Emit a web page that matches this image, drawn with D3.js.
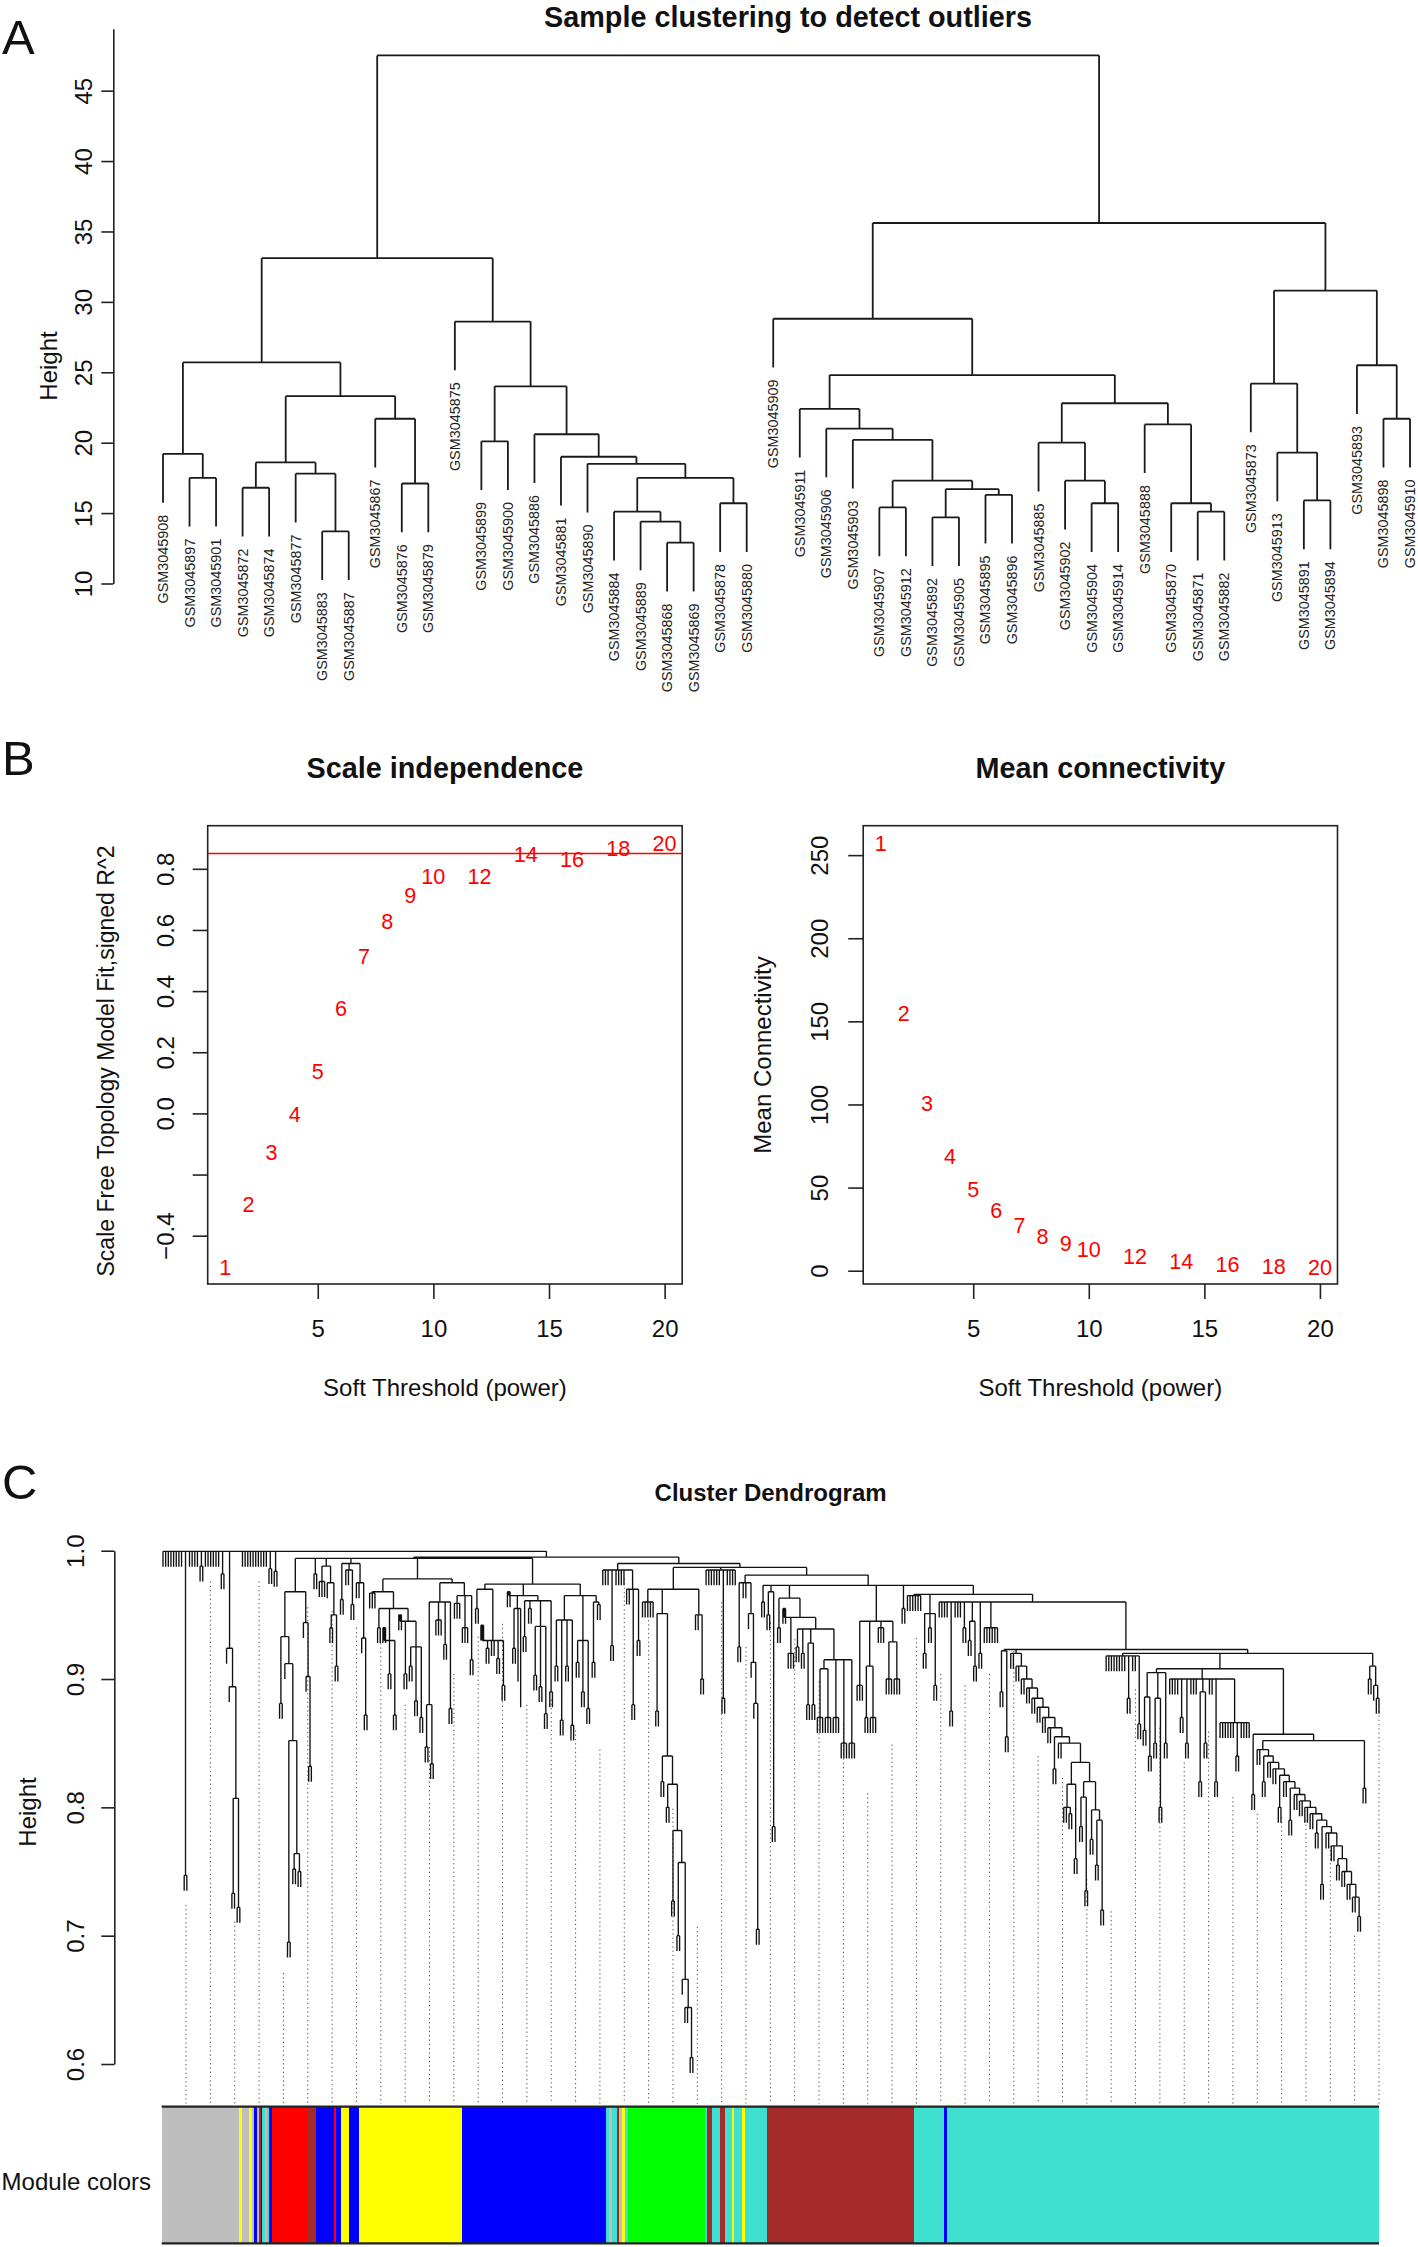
<!DOCTYPE html>
<html><head><meta charset="utf-8">
<script src="https://cdn.jsdelivr.net/npm/d3@7"></script>
<style>
body{margin:0;background:#fff}
svg{display:block}
text{font-family:"Liberation Sans",Arial,Helvetica,sans-serif}
</style></head><body>
<svg id="c" width="1418" height="2247"></svg>
<script>
// ---------------- helper for writing staircase branches in the tree data
function stair(steps, tail){let n=tail;for(let i=steps.length-1;i>=0;i--){n=[steps[i][0],...steps[i].slice(1),n];}return n;}

// ---------------- DATA: Panel A (sample clustering) [height, child, child]
const sampleTree = [47.5,
  [33.1,
    [25.7,
      [19.2, "GSM3045908", [17.5, "GSM3045897", "GSM3045901"]],
      [23.3,
        [18.6, [16.8, "GSM3045872", "GSM3045874"], [17.8, "GSM3045877", [13.7, "GSM3045883", "GSM3045887"]]],
        [21.7, "GSM3045867", [17.1, "GSM3045876", "GSM3045879"]]]],
    [28.6, "GSM3045875",
      [24.0,
        [20.1, "GSM3045899", "GSM3045900"],
        [20.6, "GSM3045886",
          [19.0, "GSM3045881",
            [18.5, "GSM3045890",
              [17.5,
                [15.1, "GSM3045884", [14.4, "GSM3045889", [12.9, "GSM3045868", "GSM3045869"]]],
                [15.7, "GSM3045878", "GSM3045880"]]]]]]]],
  [35.6,
    [28.8, "GSM3045909",
      [24.8,
        [22.4, "GSM3045911", [21.0, "GSM3045906", [20.2, "GSM3045903",
          [17.3, [15.4, "GSM3045907", "GSM3045912"], [16.7, [14.7, "GSM3045892", "GSM3045905"], [16.3, "GSM3045895", "GSM3045896"]]]]]],
        [22.8,
          [20.0, "GSM3045885", [17.3, "GSM3045902", [15.7, "GSM3045904", "GSM3045914"]]],
          [21.3, "GSM3045888", [15.7, "GSM3045870", [15.1, "GSM3045871", "GSM3045882"]]]]]],
    [30.8,
      [24.2, "GSM3045873", [19.3, "GSM3045913", [15.9, "GSM3045891", "GSM3045894"]]],
      [25.5, "GSM3045893", [21.7, "GSM3045898", "GSM3045910"]]]]];
const heightTicksA = [10, 15, 20, 25, 30, 35, 40, 45];

// ---------------- DATA: Panel B (soft threshold)
const powers = [1, 2, 3, 4, 5, 6, 7, 8, 9, 10, 12, 14, 16, 18, 20];
const sftR2  = [-0.505, -0.297, -0.128, -0.002, 0.138, 0.343, 0.512, 0.627, 0.714, 0.774, 0.776, 0.848, 0.831, 0.867, 0.883];
const meanK  = [257.2, 154.9, 100.6, 69.0, 49.1, 36.0, 27.4, 20.7, 16.4, 12.9, 8.3, 5.4, 3.8, 2.7, 1.9];
const r2Cut = 0.85;
const powerTicks = [5, 10, 15, 20];
const r2Ticks = [-0.4, -0.2, 0, 0.2, 0.4, 0.6, 0.8];
const r2TickLabels = ["\u22120.4", "", "0.0", "0.2", "0.4", "0.6", "0.8"];
const kTicks = [0, 50, 100, 150, 200, 250];

// ---------------- DATA: Panel C (gene dendrogram) [height, children...]; integer = that many leaves
const dendroLeft = [
  8, [0.747, 2],
  4, [0.988, 2], 6, [0.982, 2],
  [0.924, 1, [0.894, 1, [0.807, [0.733, 2], [0.722, 2]]]],
  10, [0.986, 2], [0.984, 2]];
const dendroMid = [0.994,
  [0.968,
    [0.933, [0.881, 2], [0.912, 1, [0.852, [0.695, 2], [0.764, [0.752, 2], [0.75, 2]]]]],
    [0.944, 1, [0.902, 1, [0.832, 2]]]],
  [0.982, 2],
  [0.988, [0.976, 3], [0.975, 1, [0.95, [0.94, 2], [0.91, 2]]]],
  [0.99, [0.962, 2], [0.985, 2, [0.958, 2]], [0.975, 2, [0.932, 1, [0.872, 2]]]],
  [0.978,
    [0.968, [0.967, 3],
      [0.955, [0.94, 2],
        [0.93, [0.94, 2], [0.904, 2], [0.872, 2]],
        [0.945, [0.95, 2], [0.904, 2], [0.925, [0.91, 2], [0.883, 2], [0.87, 2]]]]],
    [0.975,
      [0.96, [0.88, [0.847, 2], [0.834, 2]], [0.946, 3], [0.927, 2], [0.877, 2]],
      [0.965, [0.959, 3], [0.94, 3], [0.915, 2]]]],
  [0.974,
    [0.97, [0.955, 2], [0.93, [0.942, 2], [0.924, 2], [0.93, 2], [0.916, 2], [0.895, 2]]],
    [0.965, [0.968, 2], [0.955, [0.924, 2], [0.91, 1], [0.89, 1]],
      [0.961, [0.933, 2], [0.955, 2], [0.941, [0.903, 2], [0.894, 2], [0.873, 2]], [0.89, 2]]],
    [0.965, [0.946, [0.91, 2], [0.868, 2], [0.91, 2], [0.864, 2]], [0.93, [0.913, 2], [0.89, 2], [0.877, 2]], [0.96, [0.913, 2], [0.958, 2]]]]];
const dendroStairH = stair(
  [[0.92, 2], [0.91, 2], [0.9, 2], [0.893, 2], [0.885, 2], [0.878, 2], [0.87, 2], [0.862, 2], [0.855, [0.83, 2]], [0.85, 2]],
  [0.835, [0.818, [0.8, 2, [0.795, 2]], [0.76, 2]], [0.82, [0.808, [0.785, 2], [0.735, 2]], [0.798, [0.775, 2], [0.79, [0.755, 2], [0.72, 2]]]]]);
const dendroStairL = stair(
  [[0.845, 2], [0.84, [0.82, 2]], [0.835, 2], [0.83, 2], [0.825, [0.8, 2]], [0.82, 2], [0.815, [0.79, 2]], [0.81, 2], [0.805, 2], [0.8, 2],
   [0.795, 2], [0.79, [0.78, 2]], [0.785, [0.74, 2]], [0.78, 2], [0.77, 2], [0.76, [0.755, 2]], [0.75, 2], [0.74, 2], [0.73, 2]],
  [0.715, 2]);
const dendroStairU = stair(
  [[0.951, [0.875, 2]], [0.84, [0.82, 2]], [0.818, [0.8, 2]], [0.782, [0.727, 2]], [0.757, [0.70, 2]], [0.666, 1], [0.644, 2]],
  [0.605, 2]);
const dendroStairB = stair([[0.951, 1], [0.913, 1], [0.881, 1]], [0.705, 2]);
const dendroRight = [0.99,
  [0.985, 3, [0.926, 2], 4, [0.97, 2, [0.88, 2], [0.93, 2]]],
  [0.987,
    [0.97, [0.96, 5], dendroStairU, [0.95, 2, [0.9, 2]]],
    [0.985, 6, [0.885, 2], 4],
    [0.981,
      [0.975, [0.925, 2], 2, dendroStairB],
      [0.973,
        [0.96, 2],
        [0.968, [0.95, 2], [0.916, [0.785, 2]]],
        [0.963, [0.94, 2], [0.948, [0.955, 2], [0.92, 3], [0.939, [0.925, 2], [0.92, 2], [0.928, [0.88, 2], [0.88, 2]],
          [0.915, [0.908, [0.87, 3], [0.87, 3]], [0.915, [0.87, 3], [0.85, 3], [0.85, 3]]]]]],
        [0.945, [0.895, 3], [0.91, [0.87, 2], [0.87, 3]], [0.94, 3], [0.929, [0.9, 3], [0.9, 3]]],
        [0.955, 2],
        [0.966,
          [0.965, 6], [0.951, [0.92, 2], [0.94, 2], [0.93, [0.895, 2]]],
          [0.96,
            4, [0.875, 2], 3, [0.94, 2], [0.945, [0.93, 2], [0.91, 2]], [0.92, 2], [0.94, 6],
            [0.923,
              [0.922, [0.89, 2], [0.855, 2]],
              dendroStairH,
              [0.92,
                [0.918, 8, [0.885, 2], 2, [0.865, 2]],
                [0.908,
                  [0.905, [0.886, [0.86, 2], [0.84, 2]], [0.885, [0.85, 2], [0.8, 2]], [0.85, 2]],
                  [0.9, 4, [0.87, 2], [0.85, 2], 3, [0.89, [0.82, 2], [0.85, 2]], 2, [0.82, 2], [0.866, 6, [0.84, 2], 4]],
                  [0.857, [0.81, 2], [0.852, dendroStairL, [0.815, 2]]]],
                [0.91, [0.9, 2], [0.895, 1, [0.885, 2]]]]]]]]]]];
const geneTree = [0.9995, ...dendroLeft, [0.995, dendroMid, dendroRight]];
const heightTicksC = [0.6, 0.7, 0.8, 0.9, 1.0];
const guideTops = [0.724, 0.976, 0.711, 0.976, 0.671, 0.956, 0.953, 0.940, 0.928, 0.880,
                   0.847, 0.904, 0.933, 0.943, 0.880, 0.884, 0.860, 0.845, 0.978, 0.946,
                   0.799, 0.707, 0.960, 0.925, 0.944, 0.931, 0.898, 0.865, 0.811, 0.849,
                   0.932, 0.904, 0.895, 0.904, 0.922, 0.840, 0.823, 0.744, 0.719, 0.892,
                   0.862, 0.835, 0.859, 0.808, 0.795, 0.792, 0.790, 0.770, 0.700, 0.875];
const moduleOrder = ["grey","yellow","grey","yellow","grey","blue","grey","brown","blue","turquoise","grey","turquoise","blue",
  "red","brown","blue","red","blue","yellow","blue","yellow","blue","turquoise","grey","turquoise","brown","grey","yellow",
  "turquoise","green","turquoise","brown","turquoise","brown","turquoise","yellow","turquoise","yellow","turquoise","brown",
  "turquoise","blue","turquoise"];
const moduleRun = [155,5,15,5,5,5,4,4,3,5,4,5,5,
  71,19,36,4,10,16,20,205,289,5,7,9,5,5,7,
  5,155,5,9,16,10,14,5,16,5,45,293,
  60,7,865];
const rColors = {grey:"#BEBEBE", yellow:"#FFFF00", blue:"#0000FF", brown:"#A52A2A", turquoise:"#40E0D0", red:"#FF0000", green:"#00FF00"};

// ---------------- generic tree tools
function toNode(a){
  if (typeof a === "string") return {leaf:true, name:a};
  const n = {leaf:false, h:a[0], children:[]};
  for (const c of a.slice(1)) {
    if (typeof c === "number") for (let i=0;i<c;i++) n.children.push({leaf:true});
    else n.children.push(toNode(c));
  }
  return n;
}
function place(root){
  let idx = 0; const leaves = [];
  (function rec(n){
    if (n.leaf){ n.i = idx++; leaves.push(n); return; }
    n.children.forEach(rec);
    n.i = (n.children[0].i + n.children[n.children.length-1].i)/2;
  })(root);
  return leaves;
}
function heights(n, out){ if(!n.leaf){ out.push(n.h); n.children.forEach(c=>heights(c,out)); } return out; }
function segments(n, hang, out){
  if (n.leaf) return out;
  const c0 = n.children[0], c1 = n.children[n.children.length-1];
  out.push([c0.i, n.h, c1.i, n.h]);
  for (const c of n.children){
    const b = c.leaf ? n.h - hang : c.h;
    if (c.leaf) c.end = b;
    out.push([c.i, n.h, c.i, b]);
    segments(c, hang, out);
  }
  return out;
}
const svg = d3.select("#c");
function pathOf(segs, xs, ys){ return segs.map(s=>`M${xs(s[0]).toFixed(2)},${ys(s[1]).toFixed(2)}L${xs(s[2]).toFixed(2)},${ys(s[3]).toFixed(2)}`).join(""); }
function rotText(x, y, txt, size, weight){
  return svg.append("text").attr("transform",`translate(${x},${y}) rotate(-90)`)
    .attr("text-anchor","middle").attr("dominant-baseline","central")
    .attr("font-size",size).attr("font-weight",weight||"normal").attr("fill","#111").text(txt);
}
function hText(x, y, txt, size, weight, anchor){
  return svg.append("text").attr("x",x).attr("y",y).attr("text-anchor",anchor||"middle")
    .attr("font-size",size).attr("font-weight",weight||"normal").attr("fill","#111").text(txt);
}
function styleLeftAxis(g, offset, size){
  g.selectAll("path.domain").attr("stroke","#222").attr("stroke-width",1.6);
  g.selectAll(".tick line").attr("stroke","#222").attr("stroke-width",1.6);
  g.selectAll(".tick text").attr("x",null).attr("dy",null)
    .attr("transform",`translate(${-offset},0) rotate(-90)`)
    .attr("text-anchor","middle").attr("dominant-baseline","central")
    .attr("font-size",size).attr("fill","#111")
    .style("font-family",'"Liberation Sans",Arial,Helvetica,sans-serif');
}
function styleBottomAxis(g, offset, size){
  g.selectAll("path.domain").remove();
  g.selectAll(".tick line").attr("stroke","#222").attr("stroke-width",1.6);
  g.selectAll(".tick text").attr("y",offset).attr("dy",null).attr("dominant-baseline","central")
    .attr("font-size",size).attr("fill","#111")
    .style("font-family",'"Liberation Sans",Arial,Helvetica,sans-serif');
}

// ---------------- letters
hText(2, 54, "A", 49, "normal", "start");
hText(2, 775, "B", 49, "normal", "start");
hText(2, 1499, "C", 49, "normal", "start");

// ---------------- Panel A
{
  const root = toNode(sampleTree);
  const leaves = place(root);
  const hs = heights(root, []);
  const hang = 0.1 * (d3.max(hs) - d3.min(hs));
  const segs = segments(root, hang, []);
  const xA = d3.scaleLinear().domain([0, leaves.length-1]).range([163, 1410]);
  const yA = d3.scaleLinear().domain([10, 49.4]).range([583.5, 28.7]);
  svg.append("path").attr("d", pathOf(segs, xA, yA)).attr("fill","none").attr("stroke","#1a1a1a").attr("stroke-width",1.8);
  leaves.forEach(l=>{
    svg.append("text").attr("transform",`translate(${xA(l.i)},${yA(l.end)+12}) rotate(-90)`)
      .attr("text-anchor","end").attr("dominant-baseline","central")
      .attr("font-size",14.4).attr("fill","#222").text(l.name);
  });
  const g = svg.append("g").attr("transform","translate(113.3,0)")
    .call(d3.axisLeft(yA).tickValues(heightTicksA).tickSize(12).tickSizeOuter(0).tickFormat(d3.format("d")));
  styleLeftAxis(g, 30, 24);
  hText(788, 26.5, "Sample clustering to detect outliers", 28.8, "bold");
  rotText(48.3, 366, "Height", 24);
}

// ---------------- Panel B
function softPanel(x0, x1, yDomain, ticks, tickLabels, yTitle, yTitleSize, yTitleY, title, labOff, titleX){
  const top = 825.7, bot = 1284;
  const xs = d3.scaleLinear().domain([0.24, 20.76]).range([x0, x1]);
  const ys = d3.scaleLinear().domain(yDomain).range([bot, top]);
  const gx = svg.append("g").attr("transform",`translate(0,${bot})`)
    .call(d3.axisBottom(xs).tickValues(powerTicks).tickSize(15).tickSizeOuter(0));
  styleBottomAxis(gx, 44.5, 24);
  const gy = svg.append("g").attr("transform",`translate(${x0},0)`)
    .call(d3.axisLeft(ys).tickValues(ticks).tickSize(15).tickSizeOuter(0).tickFormat((d,i)=>tickLabels[i]));
  gy.select("path.domain").remove();
  styleLeftAxis(gy, labOff, 24);
  svg.append("rect").attr("x",x0).attr("y",top).attr("width",x1-x0).attr("height",bot-top)
    .attr("fill","none").attr("stroke","#222").attr("stroke-width",1.6);
  hText((x0+x1)/2, 778, title, 28.8, "bold");
  svg.append("text").attr("x",(x0+x1)/2).attr("y",1387.4).attr("text-anchor","middle").attr("dominant-baseline","central")
    .attr("font-size",24).attr("fill","#111").text("Soft Threshold (power)");
  rotText(titleX, yTitleY, yTitle, yTitleSize);
  return {xs, ys};
}
{
  const L = softPanel(207.7, 682.2, [-0.558, 0.941], r2Ticks, r2TickLabels,
    "Scale Free Topology Model Fit,signed R^2", 23, 1061, "Scale independence", 42.7, 106.3);
  svg.append("line").attr("x1",207.7).attr("x2",682.2).attr("y1",L.ys(r2Cut)).attr("y2",L.ys(r2Cut))
    .attr("stroke","#FF0000").attr("stroke-width",1.5);
  svg.append("g").selectAll("text").data(powers).join("text")
    .attr("x",(d)=>L.xs(d)).attr("y",(d,i)=>L.ys(sftR2[i])).attr("text-anchor","middle").attr("dominant-baseline","central")
    .attr("font-size",21.6).attr("fill","#FF0000").text(d=>d);
  const R = softPanel(863.2, 1337.5, [-8, 267.7], kTicks, kTicks.map(String),
    "Mean Connectivity", 24, 1055, "Mean connectivity", 43.4, 762.4);
  svg.append("g").selectAll("text").data(powers).join("text")
    .attr("x",(d)=>R.xs(d)).attr("y",(d,i)=>R.ys(meanK[i])).attr("text-anchor","middle").attr("dominant-baseline","central")
    .attr("font-size",21.6).attr("fill","#FF0000").text(d=>d);
}

// ---------------- Panel C
{
  const root = toNode(geneTree);
  const leaves = place(root);
  const hang = 0.012;
  const segs = segments(root, hang, []);
  const xC = d3.scaleLinear().domain([0, leaves.length-1]).range([163, 1379]);
  const yC = d3.scaleLinear().domain([0.6, 1.0]).range([2064, 1550.7]);
  const barL = 161.7, barR = 1379, barTop = 2106.7, barBot = 2243.3;
  const xG = d3.scaleLinear().domain([0, guideTops.length]).range([barL, barR]);
  svg.append("g").selectAll("line").data(guideTops).join("line")
    .attr("x1",(d,k)=>xG(k+1)).attr("x2",(d,k)=>xG(k+1))
    .attr("y1",d=>yC(d)).attr("y2",barTop-3)
    .attr("stroke","#555").attr("stroke-width",1).attr("stroke-dasharray","1.3,3");
  svg.append("path").attr("d", pathOf(segs, xC, yC)).attr("fill","none").attr("stroke","#111").attr("stroke-width",1.35);
  const g = svg.append("g").attr("transform","translate(114.3,0)")
    .call(d3.axisLeft(yC).tickValues(heightTicksC).tickSize(13).tickSizeOuter(0).tickFormat(d3.format(".1f")));
  styleLeftAxis(g, 39, 24);
  rotText(27, 1812, "Height", 24);
  hText(770.6, 1501, "Cluster Dendrogram", 24, "bold");
  // module colour bar
  const total = d3.sum(moduleRun);
  const xBar = d3.scaleLinear().domain([0, total]).range([barL, barR]);
  const starts = d3.cumsum([0, ...moduleRun]);
  svg.append("g").attr("shape-rendering","crispEdges").selectAll("rect").data(moduleOrder).join("rect")
    .attr("x",(d,i)=>xBar(starts[i])).attr("width",(d,i)=>Math.max(0.5, xBar(starts[i]+moduleRun[i])-xBar(starts[i])))
    .attr("y",barTop).attr("height",barBot-barTop).attr("fill",d=>rColors[d]);
  [barTop, barBot].forEach(y=>svg.append("line").attr("x1",barL).attr("x2",barR).attr("y1",y).attr("y2",y)
    .attr("stroke","#222").attr("stroke-width",2.2));
  svg.append("text").attr("x",151).attr("y",2181).attr("text-anchor","end").attr("dominant-baseline","central")
    .attr("font-size",24).attr("fill","#111").text("Module colors");
}
</script></body></html>
